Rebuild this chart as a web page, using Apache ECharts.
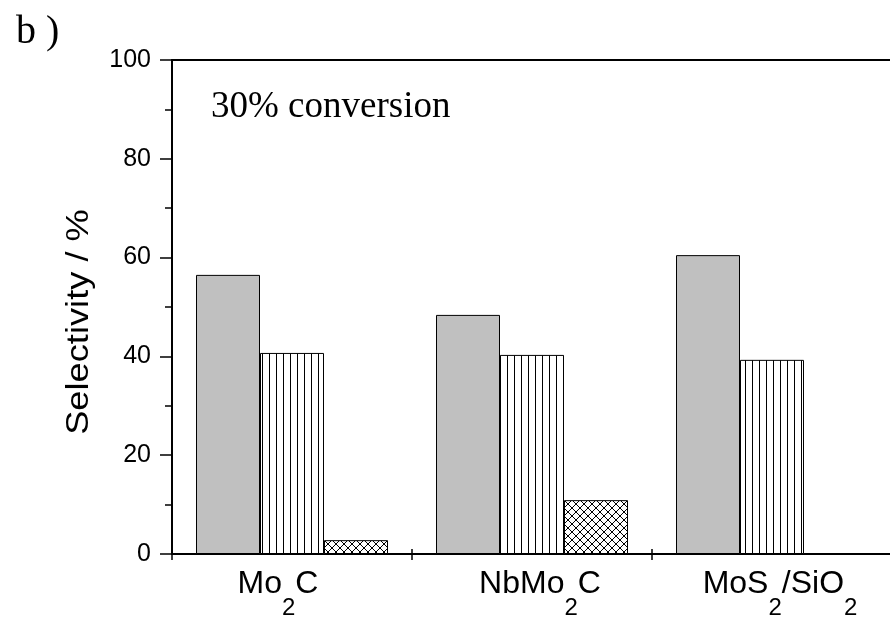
<!DOCTYPE html>
<html>
<head>
<meta charset="utf-8">
<script src="https://cdn.jsdelivr.net/npm/echarts@6/dist/echarts.min.js"></script>
<style>html,body{margin:0;padding:0;background:#fff}#c{width:890px;height:617px}</style>
</head>
<body>
<div id="c"></div>
<script>
var categories = ['Mo2C', 'NbMo2C', 'MoS2/SiO2'];
var categoryLabels = ['{m|Mo}{s|2}{m|C}{gr| }', '{gl| }{m|NbMo}{s|2}{m|C}', '{gl| }{m|MoS}{s|2}{m|/SiO}{s|2}'];
var series1 = [56.5, 48.4, 60.5];
var series2 = [40.7, 40.3, 39.3];
var series3 = [2.8, 10.9, 0];
var yTicks = [0, 20, 40, 60, 80, 100];
var yName = 'Selectivity / %';

function makeStripes() {
  var c = document.createElement('canvas');
  c.width = 7; c.height = 7;
  var g = c.getContext('2d');
  g.fillStyle = '#fff'; g.fillRect(0, 0, 7, 7);
  g.fillStyle = '#000'; g.fillRect(3, 0, 1, 7);
  return c;
}
function makeCross() {
  var s = 8;
  var c = document.createElement('canvas');
  c.width = s; c.height = s;
  var g = c.getContext('2d');
  g.fillStyle = '#fff'; g.fillRect(0, 0, s, s);
  g.strokeStyle = '#000'; g.lineWidth = 1;
  g.beginPath();
  g.moveTo(0, 0); g.lineTo(s, s);
  g.moveTo(s, 0); g.lineTo(0, s);
  g.stroke();
  return c;
}

var FONT = 'Liberation Sans, Arial, sans-serif';
var chart = echarts.init(document.getElementById('c'), null, {renderer: 'canvas'});
var labelRich = {
  m: {fontSize: 32, fontFamily: FONT, color: '#000', lineHeight: 32, verticalAlign: 'top'},
  s: {fontSize: 24, fontFamily: FONT, color: '#000', lineHeight: 24, padding: [28, 0, 0, 0], verticalAlign: 'top'},
  gl: {fontSize: 10, width: 16, lineHeight: 10, verticalAlign: 'top'},
  gr: {fontSize: 10, width: 28, lineHeight: 10, verticalAlign: 'top'}
};
function fmt(v) {
  return categoryLabels[categories.indexOf(v)];
}
var option = {
  animation: false,
  backgroundColor: '#fff',
  grid: {left: 172, top: 60, width: 720, height: 494, containLabel: false, outerBoundsMode: 'none'},
  xAxis: [{
    type: 'category', data: categories, position: 'bottom',
    axisLine: {lineStyle: {color: '#000', width: 2}},
    axisTick: {show: true, length: 6, lineStyle: {color: '#000', width: 1.5}},
    axisLabel: {margin: 14, formatter: fmt, rich: labelRich, color: '#000'}
  }, {
    type: 'category', data: categories, position: 'bottom',
    axisLine: {show: false},
    axisTick: {show: true, inside: true, length: 5, lineStyle: {color: '#000', width: 1.5}},
    axisLabel: {show: false}
  }, {
    type: 'category', data: categories, position: 'top',
    axisLine: {show: true, lineStyle: {color: '#000', width: 2}},
    axisTick: {show: false}, axisLabel: {show: false}
  }],
  yAxis: {
    type: 'value', min: 0, max: 100, interval: 20,
    axisLine: {show: true, lineStyle: {color: '#000', width: 2}},
    axisTick: {show: true, length: 12, lineStyle: {color: '#000', width: 1.5}},
    minorTick: {show: true, splitNumber: 2, length: 7, lineStyle: {color: '#000', width: 1.5}},
    splitLine: {show: false},
    axisLabel: {margin: 21, fontSize: 25, fontFamily: FONT, color: '#000',
      formatter: function (v) { return yTicks.indexOf(v) >= 0 ? String(v) : ''; }}
  },
  series: [{
    type: 'bar', data: series1, barGap: '0%', barCategoryGap: '20%',
    itemStyle: {color: '#c0c0c0', borderColor: '#000', borderWidth: 1}
  }, {
    type: 'bar', data: series2, barGap: '0%', barCategoryGap: '20%',
    itemStyle: {color: {image: makeStripes(), repeat: 'repeat'}, borderColor: '#000', borderWidth: 1}
  }, {
    type: 'bar', data: series3, barGap: '0%', barCategoryGap: '20%',
    itemStyle: {color: {image: makeCross(), repeat: 'repeat'}, borderColor: '#000', borderWidth: 1}
  }],
  graphic: [{
    type: 'text', left: 16, top: 12,
    style: {text: 'b )', font: '40px "Liberation Serif", "Times New Roman", serif', fill: '#000'}
  }, {
    type: 'text', left: 211, top: 89,
    style: {text: '30% conversion', font: '37px "Liberation Serif", "Times New Roman", serif', fill: '#000'}
  }, {
    type: 'text', x: 79, y: 322, rotation: Math.PI / 2, scaleX: 1.17,
    style: {text: yName, font: '31px "Liberation Sans", Arial, sans-serif', fill: '#000',
      textAlign: 'center', textVerticalAlign: 'middle'}
  }]
};
chart.setOption(option);
</script>
</body>
</html>
